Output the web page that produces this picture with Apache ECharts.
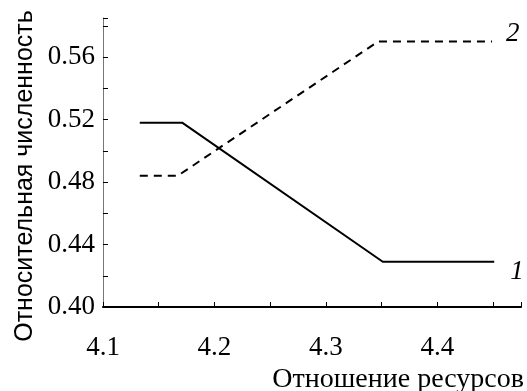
<!DOCTYPE html>
<html>
<head>
<meta charset="utf-8">
<script src="https://cdn.jsdelivr.net/npm/echarts@6/dist/echarts.min.js"></script>
<style>
  html, body { margin: 0; padding: 0; background: #fff; }
  #chart { width: 527px; height: 391px; }
</style>
</head>
<body>
<div id="chart"></div>
<script>
// кривая 1 (сплошная) и кривая 2 (штриховая)
const ratio1 = [4.133, 4.171, 4.351, 4.451]
const share1 = [0.518, 0.518, 0.429, 0.429]
const ratio2 = [4.133, 4.167, 4.347, 4.449]
const share2 = [0.484, 0.484, 0.570, 0.570]

const serif = '"Liberation Serif", "Times New Roman", serif'
const sans = '"Liberation Sans", Arial, sans-serif'

const zip = (xs, ys) => xs.map((x, i) => [x, ys[i]])

const onStep = (v, step) => Math.abs(v / step - Math.round(v / step)) < 1e-6

const chart = echarts.init(document.getElementById('chart'))

const option = {
  animation: false,
  grid: {
    left: 103,
    right: 6,
    top: 18,
    bottom: 84
  },
  xAxis: {
    type: 'value',
    min: 4.1,
    max: 4.475,
    interval: 0.05,
    axisLine: { lineStyle: { color: '#000', width: 2 } },
    axisTick: { inside: true, length: 5, lineStyle: { color: '#000', width: 1 } },
    splitLine: { show: false },
    axisLabel: {
      margin: 27,
      color: '#000',
      fontFamily: serif,
      fontSize: 27,
      formatter: v => (onStep(v, 0.1) && v < 4.45 ? v.toFixed(1) : '')
    }
  },
  yAxis: {
    type: 'value',
    min: 0.40,
    max: 0.585,
    interval: 0.02,
    axisLine: { show: true, lineStyle: { color: '#777', width: 1 } },
    axisTick: { show: true, inside: true, length: 5, lineStyle: { color: '#000', width: 1 } },
    splitLine: { show: false },
    axisLabel: {
      margin: 8,
      color: '#000',
      fontFamily: serif,
      fontSize: 27,
      formatter: v => (onStep(v, 0.04) && v < 0.58 ? v.toFixed(2) : '')
    }
  },
  series: [
    {
      name: '1',
      type: 'line',
      data: zip(ratio1, share1),
      showSymbol: false,
      lineStyle: { color: '#000', width: 2 },
      endLabel: {
        show: true,
        formatter: '1',
        offset: [8, 10],
        color: '#000',
        fontFamily: serif,
        fontStyle: 'italic',
        fontSize: 27
      }
    },
    {
      name: '2',
      type: 'line',
      data: zip(ratio2, share2),
      showSymbol: false,
      lineStyle: { color: '#000', width: 2, type: [8, 6] },
      endLabel: {
        show: true,
        formatter: '2',
        offset: [6, -8],
        color: '#000',
        fontFamily: serif,
        fontStyle: 'italic',
        fontSize: 27
      }
    }
  ],
  graphic: [
    {
      type: 'text',
      x: 25,
      y: 176,
      rotation: Math.PI / 2,
      style: {
        text: 'Относительная численность',
        font: '25px ' + sans,
        fill: '#000',
        align: 'center',
        verticalAlign: 'middle'
      }
    },
    {
      type: 'text',
      x: 524,
      y: 380,
      style: {
        text: 'Отношение ресурсов',
        font: '28px ' + serif,
        fill: '#000',
        align: 'right',
        verticalAlign: 'middle'
      }
    }
  ]
}

chart.setOption(option)
</script>
</body>
</html>
